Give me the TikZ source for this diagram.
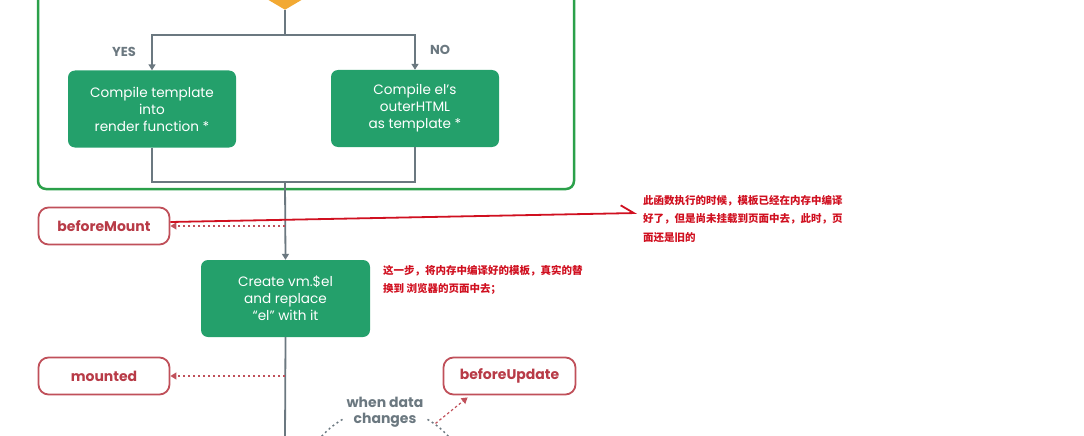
\documentclass[tikz,border=0pt]{standalone}
\usepackage{fontspec}
\setmainfont{Poppins}
\newfontfamily\cjk{Noto Sans CJK SC}
\usetikzlibrary{positioning,shapes.geometric,arrows.meta,calc}
\definecolor{vgreen}{HTML}{24A06B}
\definecolor{framegreen}{HTML}{2BA04A}
\definecolor{vorange}{HTML}{F2A933}
\definecolor{flowgray}{HTML}{6B7880}
\definecolor{hookred}{HTML}{C0505A}
\definecolor{hooktext}{HTML}{B83B47}
\definecolor{notered}{HTML}{D01020}

\begin{document}
\begin{tikzpicture}[x=1pt, y=-1pt,
    stepbox/.style={rectangle, rounded corners=7pt, fill=vgreen, text=white, minimum width=168pt, minimum height=77pt, align=center, inner sep=2pt, font=\fontsize{13.6}{17}\selectfont},
    hookbox/.style={rectangle, rounded corners=10pt, draw=hookred, line width=1.8pt, fill=white, text=hooktext, minimum width=131pt, minimum height=37pt, font=\fontsize{14}{16}\selectfont\bfseries},
    decision/.style={diamond, fill=vorange, minimum width=200pt, minimum height=118pt, inner sep=0pt},
    flow/.style={draw=flowgray, line width=1.8pt},
    flowarrow/.style={flow, -{Triangle[width=7pt,length=6pt]}},
    hookarrow/.style={draw=hookred, line width=1.2pt, dash pattern=on 2.5pt off 2.5pt, -{Triangle[width=7pt,length=6pt]}},
    loop/.style={draw=flowgray, line width=1.5pt, dash pattern=on 2pt off 3pt},
    graytext/.style={text=flowgray, align=center, font=\fontsize{14}{16}\selectfont\bfseries},
    note/.style={text=notered, align=left, inner sep=0pt, font=\cjk\bfseries\fontsize{10.5}{18.5}\selectfont},
    notearrow/.style={draw=notered, line width=1.8pt, -{Straight Barb[left,length=13pt,width=16pt]}}
  ]
    \useasboundingbox (0,0) rectangle (1084,436);
    \clip (0,0) rectangle (1084,436);

    % 编译模板的外框
    \draw[framegreen, line width=2.5pt, rounded corners=8pt] (38,-80) rectangle (574,189);
    \node[decision, anchor=south] (hasTemplate) at (285,10) {};

    % 两个分支
    \node[stepbox] (compileTpl) at (152,109) {Compile template\\into\\render function *};
    \node[stepbox] (compileEl) at (415,108.5) {Compile el's\\outerHTML\\as template *};
    \node[graytext, font=\fontsize{13}{14}\selectfont\bfseries] (yesLabel) at (124,52) {YES};
    \node[graytext, font=\fontsize{13}{14}\selectfont\bfseries] (noLabel) at (440,50) {NO};

    \coordinate (split) at (285,35);
    \coordinate (join) at (285,182);
    \draw[flow] (hasTemplate.south) -- (split);
    \draw[flowarrow] (split) -| (compileTpl.north);
    \draw[flowarrow] (split) -| (compileEl.north);
    \draw[flow] (compileTpl.south) |- (join);
    \draw[flow] (compileEl.south) |- (join);

    % 挂载
    \node[stepbox, minimum width=169pt] (createEl) at (285.5,298.5) {Create vm.\$el\\and replace\\“el” with it};
    \draw[flowarrow] (join) -- (createEl.north);
    \coordinate (goOn) at (285,440);
    \draw[flow] (createEl.south) -- (goOn);

    % 钩子函数
    \node[hookbox] (beforeMount) at (104,226) {beforeMount};
    \node[hookbox] (mounted) at (104,376) {mounted};
    \node[hookbox, minimum width=132pt] (beforeUpdate) at (509.5,376) {beforeUpdate};
    \foreach \hook in {beforeMount, mounted}
        \draw[hookarrow] (\hook.east -| join) -- (\hook.east);

    % 数据变化的循环
    \node[graytext] (dataChanges) at (385,412) {when data\\changes};
    \coordinate (loopC) at (385,493);
    \draw[loop] (loopC) ++(-120:85) arc[start angle=-120, end angle=-170, radius=85];
    \draw[loop] (loopC) ++(-60:85) arc[start angle=-60, end angle=-10, radius=85];
    \coordinate (loopR) at ($(loopC)+(-54:86)$);
    \draw[hookarrow] (loopR) -- ([xshift=25pt,yshift=-2pt]beforeUpdate.south west);

    % 批注
    \node[note, anchor=north west] (noteMount) at (643,195) {此函数执行的时候，模板已经在内存中编译\\好了，但是尚未挂载到页面中去，此时，页\\面还是旧的};
    \coordinate (noteTip) at (637,213);
    \draw[notearrow] ([yshift=4pt]beforeMount.east) -- (noteTip);
    \node[note, anchor=north west] (noteCreate) at (383,265) {这一步，将内存中编译好的模板，真实的替\\换到 浏览器的页面中去；};
\end{tikzpicture}
\end{document}
